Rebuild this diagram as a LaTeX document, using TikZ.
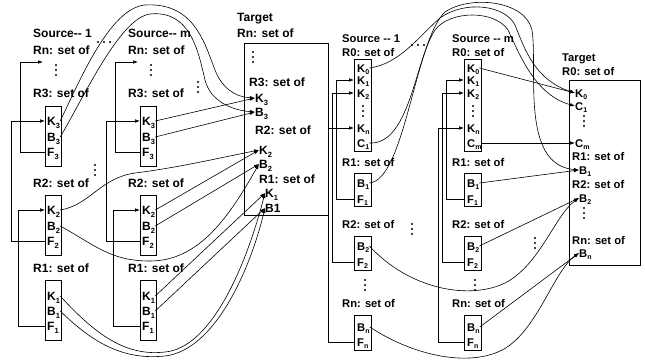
\documentclass[tikz,border=0pt]{standalone}
\usepackage{fontspec}
\setmainfont{Liberation Sans}
\usetikzlibrary{arrows.meta}
\newcommand{\subL}[1]{\raisebox{-0.25em}{\fontsize{7.5}{8}\selectfont #1}}
\newcommand{\subR}[1]{\raisebox{-0.25em}{\fontsize{7}{8}\selectfont #1}}
\newcommand{\vdt}[2]{\fill (#1,#2-5) circle[radius=1.1pt] (#1,#2) circle[radius=1.1pt] (#1,#2+5) circle[radius=1.1pt];}
\newcommand{\hdt}[2]{\fill (#1-6,#2) circle[radius=1.1pt] (#1,#2) circle[radius=1.1pt] (#1+6,#2) circle[radius=1.1pt];}
\begin{document}
\begin{tikzpicture}[x=1pt,y=-1pt,
 L/.style={anchor=west,inner sep=0pt,text height=8.6pt,text depth=0pt,font=\fontsize{12}{14}\selectfont\bfseries},
 R/.style={anchor=west,inner sep=0pt,text height=8pt,text depth=0pt,font=\fontsize{11.2}{13}\selectfont\bfseries},
 fb/.style={draw,line width=0.8pt,inner sep=0pt,anchor=north west},
 arr/.style={line width=0.6pt,-{Latex[length=5pt,width=3.6pt]}}]
\useasboundingbox (0,0) rectangle (645,360);

% ---------- left half: sources ----------
\foreach \c/\dx in {1/0,m/95}{
 \node[L] (S-\c) at (33+\dx,33) {Source-{}- \c};
 \node[L] (Rn-\c) at (33+\dx,50) {Rn: set of};
 \vdt{56+\dx}{70}
 \coordinate (rn-\c) at (43+\dx,62);
 \node[L] (R3-\c) at (33+\dx,93) {R3: set of};
 \node[fb,minimum width=16pt,minimum height=60pt] (b3-\c) at (45+\dx,106) {};
 \node[L] (K3-\c) at (47+\dx,121) {K\subL{3}};
 \node[L] (B3-\c) at (47+\dx,137) {B\subL{3}};
 \node[L] (F3-\c) at (47+\dx,152) {F\subL{3}};
 \node[L] (R2-\c) at (33+\dx,183) {R2: set of};
 \node[fb,minimum width=16pt,minimum height=60pt] (b2-\c) at (45+\dx,195) {};
 \node[L] (K2-\c) at (47+\dx,210) {K\subL{2}};
 \node[L] (B2-\c) at (47+\dx,226) {B\subL{2}};
 \node[L] (F2-\c) at (47+\dx,241) {F\subL{2}};
 \node[L] (R1-\c) at (33+\dx,268) {R1: set of};
 \node[fb,minimum width=16pt,minimum height=60pt] (b1-\c) at (45+\dx,280) {};
 \node[L] (K1-\c) at (47+\dx,296) {K\subL{1}};
 \node[L] (B1-\c) at (47+\dx,311) {B\subL{1}};
 \node[L] (F1-\c) at (47+\dx,326) {F\subL{1}};
 \draw[arr] (b3-\c.west |- F3-\c) -- ++(-25,0) |- (rn-\c);
 \draw[arr] (b2-\c.west |- F2-\c) -- ++(-34,0) |- (b3-\c.west |- K3-\c);
 \draw[arr] (b1-\c.west |- F1-\c) -- ++(-27,0) |- (b2-\c.west |- K2-\c);
}
\hdt{104}{42}
\vdt{95}{170}
\vdt{198}{87}

% ---------- left half: target ----------
\node[L] (tT) at (237,17) {Target};
\node[L] (tRn) at (237,33) {Rn: set of};
\node[fb,minimum width=84pt,minimum height=172pt] (tbox) at (244,43) {};
\vdt{253}{57}
\node[L] (tR3) at (249,82) {R3: set of};
\node[L] (tK3) at (255,98) {K\subL{3}};
\node[L] (tB3) at (255,112) {B\subL{3}};
\node[L] (tR2) at (255,130) {R2: set of};
\node[L] (tK2) at (259,150) {K\subL{2}};
\node[L] (tB2) at (259,164) {B\subL{2}};
\node[L] (tR1) at (259,179) {R1: set of};
\node[L] (tK1) at (265,193) {K\subL{1}};
\node[L] (tB1) at (265,208) {B1};

% left connectors
\draw[arr] (K3-1.east) .. controls (80,80) and (110,8) .. (145,5) .. controls (195,2) and (205,45) .. (215,70) .. controls (222,88) and (235,97) .. (tK3.west);
\draw[arr] (B3-1.east) .. controls (85,95) and (120,18) .. (150,14) .. controls (190,10) and (198,50) .. (205,80) .. controls (210,100) and (230,110) .. (tB3.west);
\draw[arr] (K2-1.east) .. controls (90,205) and (100,178) .. (135,173) .. controls (175,168) and (210,160) .. (tK2.west);
\draw[arr] (B2-1.east) .. controls (95,245) and (110,261) .. (150,261) .. controls (200,261) and (230,215) .. (tB2.west);
\draw[arr] (K1-1.east) .. controls (100,340) and (130,356) .. (165,352) .. controls (210,348) and (245,270) .. (tK1.west);
\draw[arr] (B1-1.east) .. controls (95,345) and (125,360) .. (165,356) .. controls (215,350) and (250,270) .. (tB1.west);
\draw[arr] (K3-m.east) -- (tK3.west);
\draw[arr] (B3-m.east) -- (tB3.west);
\draw[arr] (K2-m.east) -- (tK2.west);
\draw[arr] (B2-m.east) -- (tB2.west);
\draw[arr] (K1-m.east) -- (tK1.west);
\draw[arr] (B1-m.east) -- (tB1.west);

% ---------- right half: sources ----------
\foreach \c/\dx in {1/0,m/110}{
 \node[R] (rS-\c) at (342+\dx,38) {Source -{}- \c};
 \node[R] (rR0-\c) at (342+\dx,52) {R0: set of};
 \node[fb,minimum width=17pt,minimum height=92pt] (rb0-\c) at (354+\dx,59) {};
 \node[R] (rK0-\c) at (357+\dx,68) {K\subR{0}};
 \node[R] (rK1-\c) at (357+\dx,80) {K\subR{1}};
 \node[R] (rK2-\c) at (357+\dx,93) {K\subR{2}};
 \vdt{363+\dx}{111}
 \node[R] (rKn-\c) at (357+\dx,128) {K\subR{n}};
 \node[R] (rC-\c) at (357+\dx,143) {C\subR{\c}};
 \node[R] (rR1-\c) at (342+\dx,162) {R1: set of};
 \node[fb,minimum width=17pt,minimum height=33pt] (rb1-\c) at (354+\dx,173) {};
 \node[R] (rB1-\c) at (357+\dx,183) {B\subR{1}};
 \node[R] (rF1-\c) at (357+\dx,199) {F\subR{1}};
 \node[R] (rR2-\c) at (342+\dx,224) {R2: set of};
 \node[fb,minimum width=17pt,minimum height=34pt] (rb2-\c) at (354+\dx,236) {};
 \node[R] (rB2-\c) at (357+\dx,246) {B\subR{2}};
 \node[R] (rF2-\c) at (357+\dx,262) {F\subR{2}};
 \vdt{365+\dx}{285}
 \node[R] (rRn-\c) at (342+\dx,303) {Rn: set of};
 \node[fb,minimum width=17pt,minimum height=35pt] (rbn-\c) at (354+\dx,315) {};
 \node[R] (rBn-\c) at (357+\dx,327) {B\subR{n}};
 \node[R] (rFn-\c) at (357+\dx,342) {F\subR{n}};
 \draw[arr] (rb1-\c.west |- rF1-\c) -- ++(-18,0) |- (rb0-\c.west |- rK1-\c);
 \draw[arr] (rb2-\c.west |- rF2-\c) -- ++(-22,0) |- (rb0-\c.west |- rK2-\c);
 \draw[arr] (rbn-\c.west |- rFn-\c) -- ++(-26,0) |- (rb0-\c.west |- rKn-\c);
}
\hdt{418}{45}
\vdt{412}{229}
\vdt{535}{243}

% ---------- right half: target ----------
\node[R] (uT) at (562,57) {Target};
\node[R] (uR0) at (562,71) {R0: set of};
\node[fb,minimum width=71pt,minimum height=185pt] (ubox) at (569,80) {};
\node[R] (uK0) at (575,93) {K\subR{0}};
\node[R] (uC1) at (575,106) {C\subR{1}};
\vdt{584}{121}
\node[R] (uCm) at (575,143) {C\subR{m}};
\node[R] (uR1) at (572,156) {R1: set of};
\node[R] (uB1) at (579,170) {B\subR{1}};
\node[R] (uR2) at (572,184) {R2: set of};
\node[R] (uB2) at (579,198) {B\subR{2}};
\vdt{584}{213}
\node[R] (uRn) at (572,240) {Rn: set of};
\node[R] (uBn) at (579,253) {B\subR{n}};

% right connectors
\draw[arr] (rK0-1.east) .. controls (400,64) and (420,35) .. (440,18) .. controls (465,0) and (505,5) .. (515,25) .. controls (525,50) and (535,80) .. (uK0.west);
\draw[arr] (rC-1.east) .. controls (410,145) and (415,60) .. (435,30) .. controls (450,10) and (495,10) .. (508,30) .. controls (520,55) and (535,95) .. (uC1.west);
\draw[arr] (rB1-1.east) .. controls (405,180) and (415,40) .. (445,12) .. controls (470,-5) and (525,0) .. (532,30) .. controls (538,70) and (520,165) .. (uB1.west);
\draw[arr] (rB2-1.east) .. controls (410,290) and (470,300) .. (505,283) .. controls (540,265) and (555,215) .. (uB2.west);
\draw[arr] (rBn-1.east) .. controls (420,360) and (480,368) .. (510,345) .. controls (540,322) and (555,270) .. (uBn.west);
\draw[arr] (rK0-m.east) -- (uK0.west);
\draw[arr] (rC-m.east) -- (uCm.west);
\draw[arr] (rB1-m.east) -- (uB1.west);
\draw[arr] (rB2-m.east) -- (uB2.west);
\draw[arr] (rBn-m.east) -- (uBn.west);
\end{tikzpicture}
\end{document}
